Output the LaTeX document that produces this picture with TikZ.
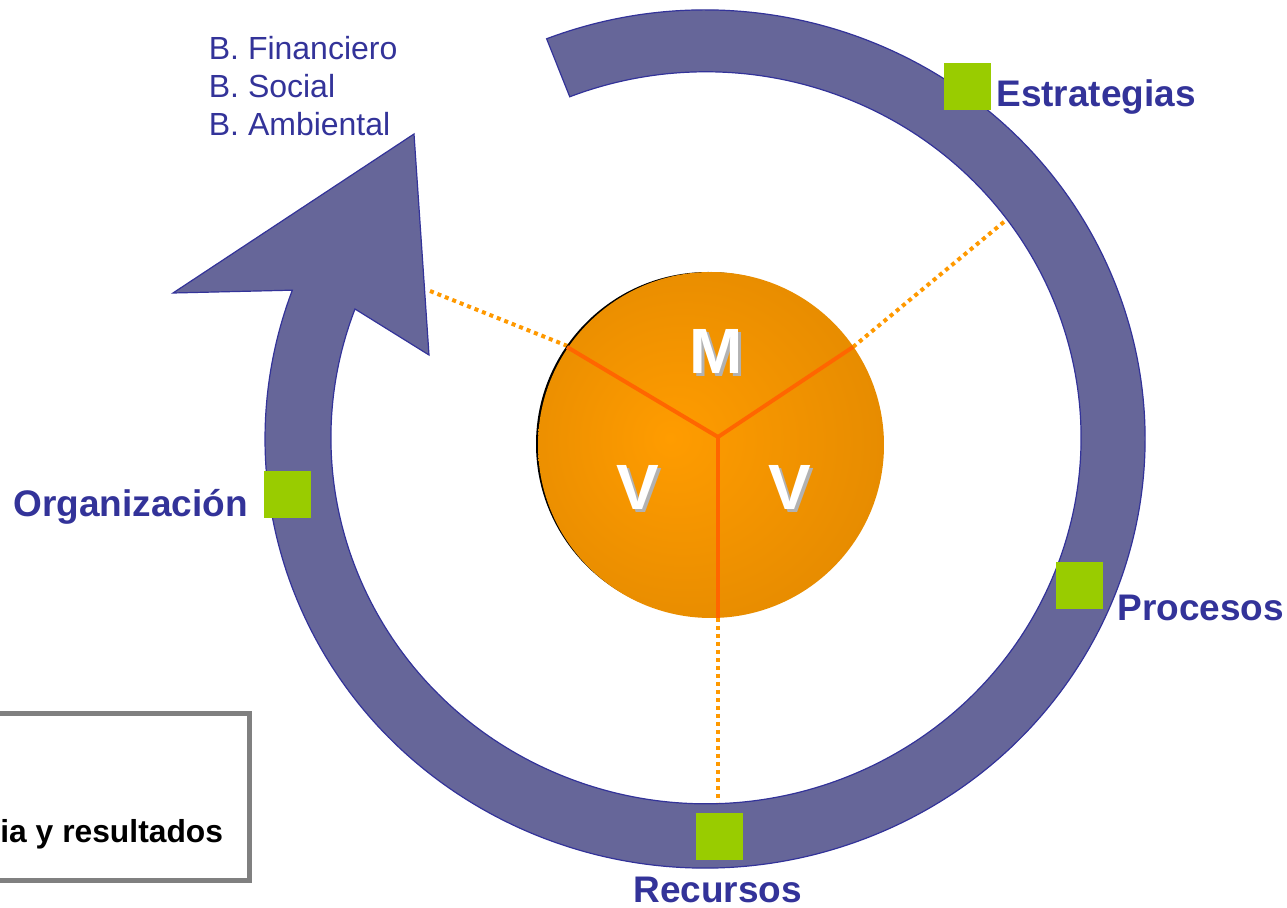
\documentclass[tikz,border=0pt]{standalone}
\usepackage{fontspec}
\setmainfont{Liberation Sans}
\definecolor{ringfill}{HTML}{666699}
\definecolor{ringedge}{HTML}{333399}
\definecolor{labelblue}{HTML}{333399}
\definecolor{markgreen}{HTML}{99CC00}
\definecolor{dotorange}{HTML}{FF9900}
\definecolor{yorange}{HTML}{FF6600}
\definecolor{orbin}{HTML}{FF9C00}
\definecolor{orbout}{HTML}{D27E00}
\definecolor{boxgray}{HTML}{808080}
\pgfdeclareradialshading{orbshade}{\pgfpoint{-6bp}{1bp}}{color(0bp)=(orbin); color(52bp)=(orbout)}
\tikzset{
  marker/.style={fill=markgreen, draw=none, minimum size=23.5pt, inner sep=0pt, outer sep=0pt},
  biglabel/.style={text=labelblue, font=\fontsize{18.5pt}{22pt}\selectfont\bfseries, inner sep=0pt, anchor=base west},
  blabel/.style={text=labelblue, font=\fontsize{16pt}{19pt}\selectfont, inner sep=0pt, anchor=base west},
  orbletter/.style={text=white, font=\fontsize{32pt}{36pt}\selectfont\bfseries, inner sep=0pt},
  orbshadow/.style={text=black!30, font=\fontsize{32pt}{36pt}\selectfont\bfseries, inner sep=0pt},
  dotline/.style={dotorange, line width=2pt, dash pattern=on 2pt off 2pt},
  yline/.style={yorange, line width=2pt}
}
\begin{document}
\begin{tikzpicture}[x=0.5pt, y=-0.5pt]
\useasboundingbox (0,0) rectangle (1287,908);

% ring arrow (outer ellipse arc, arrow head, inner ellipse arc)
\fill[ringfill, draw=ringedge, line width=0.6pt, line join=miter]
  (705,439) ++(-111.1:440 and 429)
  arc[start angle=-111.1, end angle=200.3, x radius=440, y radius=429]
  -- (173,293) -- (414,134) -- (429,355) -- (355,309)
  arc[start angle=200.6, end angle=-111.3, x radius=375, y radius=366]
  -- cycle;

% markers
\node[marker] (mEst) at (967.5,86.3) {};
\node[marker] (mPro) at (1079.7,586) {};
\node[marker] (mRec) at (719.7,836.3) {};
\node[marker] (mOrg) at (287.2,495) {};

% coordinates
\coordinate (hub) at (718,437);
\coordinate (eUL) at (567,347);
\coordinate (eUR) at (853,347);
\coordinate (eB) at (718,618);
\coordinate (fUL) at (430,291);
\coordinate (fUR) at (1005,221);
\coordinate (fB) at (718,802);

% dotted lines
\draw[dotline] (fUL) -- (580,351);
\draw[dotline] (eUR) -- (fUR);
\draw[dotline] (eB) -- (fB);

% orb
\fill[black] (708,444) circle[radius=172];
\node[circle, minimum size=173pt, inner sep=0pt, shade, shading=orbshade] (orb) at (711,445) {};

% Y lines
\draw[yline] (hub) -- (eUL);
\draw[yline] (hub) -- (eUR);
\draw[yline] (hub) -- (eB);

% letters
\node[orbshadow] at (719,354) {M};
\node[orbletter] (lM) at (716,351) {M};
\node[orbshadow] at (641,490) {V};
\node[orbletter] (lV1) at (638,487) {V};
\node[orbshadow] at (793,490) {V};
\node[orbletter] (lV2) at (790,487) {V};

% labels
\node[biglabel] (tEst) at (996,107) {Estrategias};
\node[biglabel] (tPro) at (1117,621) {Procesos};
\node[biglabel] (tRec) at (633,903) {Recursos};
\node[biglabel] (tOrg) at (13,517) {Organización};

\node[blabel] (b1) at (208.5,60) {B. Financiero};
\node[blabel] (b2) at (208.5,98) {B. Social};
\node[blabel] (b3) at (208.5,136) {B. Ambiental};

% box
\draw[boxgray, line width=2.5pt] (-20,714) rectangle (249,880.5);
\node[font=\fontsize{15.9pt}{19pt}\selectfont\bfseries, inner sep=0pt, anchor=base west] (tRes) at (0,843) {ia y resultados};
\end{tikzpicture}
\end{document}
